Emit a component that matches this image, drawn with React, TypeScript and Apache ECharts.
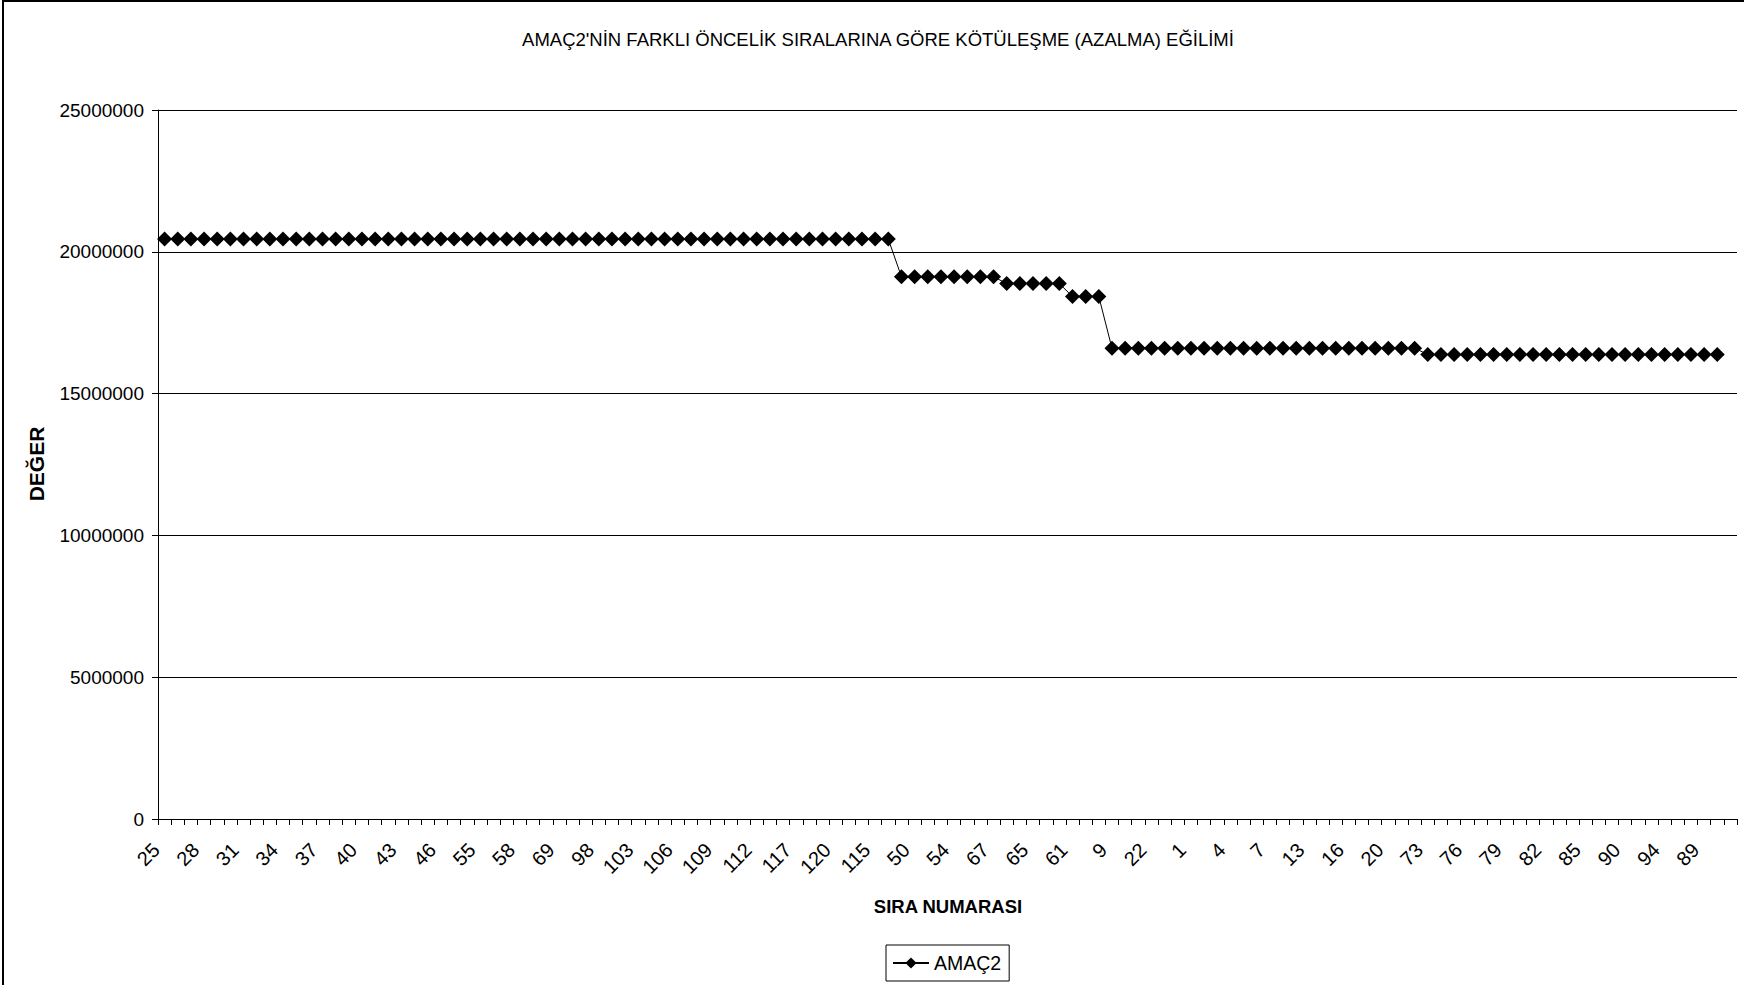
import React, { useEffect, useRef } from "react";
import * as echarts from "echarts";

const TITLE = "AMAÇ2'NİN FARKLI ÖNCELİK SIRALARINA GÖRE KÖTÜLEŞME (AZALMA) EĞİLİMİ";
const X_TITLE = "SIRA NUMARASI";
const Y_TITLE = "DEĞER";
const SERIES_NAME = "AMAÇ2";

const categories = [
  "25", "26", "27", "28", "29", "30", "31", "32", "33", "34", "35", "36",
  "37", "38", "39", "40", "41", "42", "43", "44", "45", "46", "47", "48",
  "55", "56", "57", "58", "68", "72", "69", "70", "71", "98", "101", "102",
  "103", "104", "105", "106", "107", "108", "109", "110", "111", "112", "113", "114",
  "117", "118", "119", "120", "116", "99", "115", "100",
  "49", "50", "51", "52", "54", "53", "59", "67",
  "60", "64", "65", "66", "63",
  "61", "62", "8",
  "9", "10", "21", "22", "23", "24", "1", "2", "3", "4", "5", "6",
  "7", "11", "12", "13", "14", "15", "16", "17", "18", "20", "19", "97",
  "73", "74", "75", "76", "77", "78", "79", "80", "81", "82", "83", "84",
  "85", "86", "87", "90", "91", "92", "94", "93", "95", "89", "88",
  "96",
];

const values: (number | null)[] = [
  20450000, 20450000, 20450000, 20450000, 20450000, 20450000, 20450000, 20450000,
  20450000, 20450000, 20450000, 20450000, 20450000, 20450000, 20450000, 20450000,
  20450000, 20450000, 20450000, 20450000, 20450000, 20450000, 20450000, 20450000,
  20450000, 20450000, 20450000, 20450000, 20450000, 20450000, 20450000, 20450000,
  20450000, 20450000, 20450000, 20450000, 20450000, 20450000, 20450000, 20450000,
  20450000, 20450000, 20450000, 20450000, 20450000, 20450000, 20450000, 20450000,
  20450000, 20450000, 20450000, 20450000, 20450000, 20450000, 20450000, 20450000,
  19120000, 19120000, 19120000, 19120000, 19120000, 19120000, 19120000, 19120000,
  18880000, 18880000, 18880000, 18880000, 18880000,
  18420000, 18420000, 18420000,
  16600000, 16600000, 16600000, 16600000, 16600000, 16600000, 16600000, 16600000,
  16600000, 16600000, 16600000, 16600000, 16600000, 16600000, 16600000, 16600000,
  16600000, 16600000, 16600000, 16600000, 16600000, 16600000, 16600000, 16600000,
  16380000, 16380000, 16380000, 16380000, 16380000, 16380000, 16380000, 16380000,
  16380000, 16380000, 16380000, 16380000, 16380000, 16380000, 16380000, 16380000,
  16380000, 16380000, 16380000, 16380000, 16380000, 16380000, 16380000,
  null,
];

const Y_MIN = 0;
const Y_MAX = 25000000;
const Y_STEP = 5000000;

const FONT = "'Liberation Sans', Arial, sans-serif";

export default function App() {
  const ref = useRef<HTMLDivElement>(null);
  useEffect(() => {
    if (!ref.current) return;
    const chart = echarts.init(ref.current, undefined, { renderer: "svg" });
    chart.setOption({
      animation: false,
      backgroundColor: "#ffffff",
      textStyle: { fontFamily: FONT, color: "#000" },
      title: {
        text: TITLE,
        left: 873,
        top: 25,
        textAlign: "center",
        textStyle: { fontFamily: FONT, fontSize: 18.5, fontWeight: "normal", color: "#000" },
      },
      grid: { left: 158, right: 7, top: 110, bottom: 166, containLabel: false },
      xAxis: {
        type: "category",
        data: categories,
        boundaryGap: true,
        axisLine: { lineStyle: { color: "#000", width: 1 } },
        axisTick: { show: true, interval: 0, length: 6, lineStyle: { color: "#000" } },
        axisLabel: {
          interval: 2,
          rotate: 45,
          fontSize: 20,
          color: "#000",
          fontFamily: FONT,
          margin: 19,
          padding: [0, 12, 0, 0],
        },
        splitLine: { show: false },
      },
      yAxis: {
        type: "value",
        min: Y_MIN,
        max: Y_MAX,
        interval: Y_STEP,
        axisLine: { show: true, lineStyle: { color: "#000", width: 1 } },
        axisTick: { show: true, length: 6, lineStyle: { color: "#000" } },
        axisLabel: {
          fontSize: 19,
          color: "#000",
          fontFamily: FONT,
          margin: 14,
          formatter: (v: number) => String(v),
        },
        splitLine: { show: true, lineStyle: { color: "#000", width: 1 } },
      },
      legend: {
        data: [SERIES_NAME],
        left: 886,
        top: 945,
        orient: "horizontal",
        borderColor: "#000",
        borderWidth: 1,
        borderRadius: 0,
        padding: [8, 8, 8, 6],
        itemWidth: 36,
        itemHeight: 14,
        itemGap: 4,
        textStyle: { fontSize: 19.5, color: "#000", fontFamily: FONT },
      },
      graphic: [
        {
          type: "rect",
          silent: true,
          shape: { x: 3, y: 1, width: 1800, height: 1100 },
          style: { fill: "none", stroke: "#000", lineWidth: 2 },
          z: 100,
        },
        {
          type: "text",
          x: 948,
          y: 906,
          style: {
            text: X_TITLE,
            fontFamily: FONT,
            fontSize: 18.5,
            fontWeight: "bold",
            fill: "#000",
            textAlign: "center",
            textVerticalAlign: "middle",
          },
        },
        {
          type: "text",
          x: 36,
          y: 464,
          rotation: Math.PI / 2,
          style: {
            text: Y_TITLE,
            fontFamily: FONT,
            fontSize: 21,
            fontWeight: "bold",
            fill: "#000",
            textAlign: "center",
            textVerticalAlign: "middle",
          },
        },
      ],
      series: [
        {
          name: SERIES_NAME,
          type: "line",
          data: values,
          symbol: "diamond",
          symbolSize: 15,
          showAllSymbol: true,
          connectNulls: false,
          lineStyle: { color: "#000", width: 1 },
          itemStyle: { color: "#000" },
        },
      ],
    });
    return () => chart.dispose();
  }, []);
  return (
    <div
      ref={ref}
      style={{ position: "fixed", left: 0, top: 0, width: 1744, height: 985, background: "#fff" }}
    />
  );
}
